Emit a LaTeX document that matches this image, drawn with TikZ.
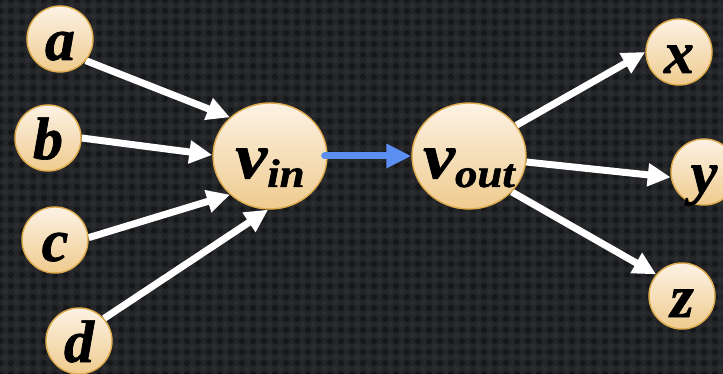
\documentclass[tikz,border=0pt]{standalone}
\usepackage{fontspec}
\setmainfont{Liberation Serif}[BoldItalicFeatures={FakeBold=1.2}]
\usetikzlibrary{arrows.meta,shapes.geometric}
\pgfdeclarelayer{back}
\pgfdeclarelayer{edges}
\pgfsetlayers{back,edges,main}
\definecolor{bgbase}{HTML}{232528}
\definecolor{bgdot}{HTML}{161719}
\definecolor{bglite}{HTML}{2B2D31}
\definecolor{nodetop}{HTML}{FCF2E4}
\definecolor{nodebot}{HTML}{EFCB8E}
\definecolor{noderim}{HTML}{DDAA4C}
\definecolor{flowblue}{HTML}{5B8FF2}
\tikzset{
  vtx/.style={circle, minimum size=66pt, inner sep=0pt, draw=noderim, line width=1.4pt,
    top color=nodetop, bottom color=nodebot, text height=42pt, text depth=0pt,
    font=\fontsize{60pt}{60pt}\selectfont\bfseries\itshape},
  bigvtx/.style={ellipse, minimum width=114pt, minimum height=106pt, inner sep=0pt,
    draw=noderim, line width=1.4pt, top color=nodetop, bottom color=nodebot,
    text height=44pt, text depth=0pt, font=\bfseries\itshape},
  wedge/.style={draw=white, line width=7pt, -{Triangle[length=23pt,width=22pt]}},
  bedge/.style={draw=flowblue, line width=7pt, line cap=round,
    -{Triangle[length=25pt,width=23pt]}},
}
% v with a subscript; zero width so the ellipse keeps its fixed size
\newcommand{\bigv}[1]{\makebox[0pt]{\scalebox{1.12}[1]{{\fontsize{64pt}{64pt}\selectfont v}\raisebox{-9pt}{\fontsize{40pt}{40pt}\selectfont #1}}}}
\begin{document}
\begin{tikzpicture}[x=1pt,y=-1pt]
\clip (0,0) rectangle (723,374);
% textured dark backdrop
\begin{pgfonlayer}{back}
  \fill[bgbase] (0,0) rectangle (723,374);
  \foreach \i in {0,...,66} {
    \foreach \j in {0,...,34} {
      \fill[bglite] (\i*11+5.5, \j*11+5.5) circle (2.6);
      \fill[bgdot] (\i*11, \j*11) circle (3);
    }
  }
\end{pgfonlayer}
% vertices
\node[vtx] (a) at (60,39) {a};
\node[vtx] (b) at (48,138) {b};
\node[vtx] (c) at (55,240) {c};
\node[vtx] (d) at (79,341) {d};
\node[bigvtx] (vin) at (270,156) {\bigv{in}};
\node[bigvtx] (vout) at (469,156) {\bigv{out}};
\node[vtx] (x) at (679,52) {x};
\node[vtx] (y) at (704,172) {y};
\node[vtx] (z) at (682,296) {z};
% edges
\begin{pgfonlayer}{edges}
  \draw[wedge] (a.-40) -- (vin.136);
  \draw[wedge] (b.0) -- (vin.179);
  \draw[wedge] (c.4) -- (vin.224);
  \draw[wedge] (d.42) -- (vin.268);
  \draw[wedge] (vout.33) -- (x.180);
  \draw[wedge] (vout.-6) -- (y.189);
  \draw[wedge] (vout.-40) -- (z.140);
\end{pgfonlayer}
\draw[bedge] ([xshift=-3pt]vin.east) -- (vout.west);
\end{tikzpicture}
\end{document}
